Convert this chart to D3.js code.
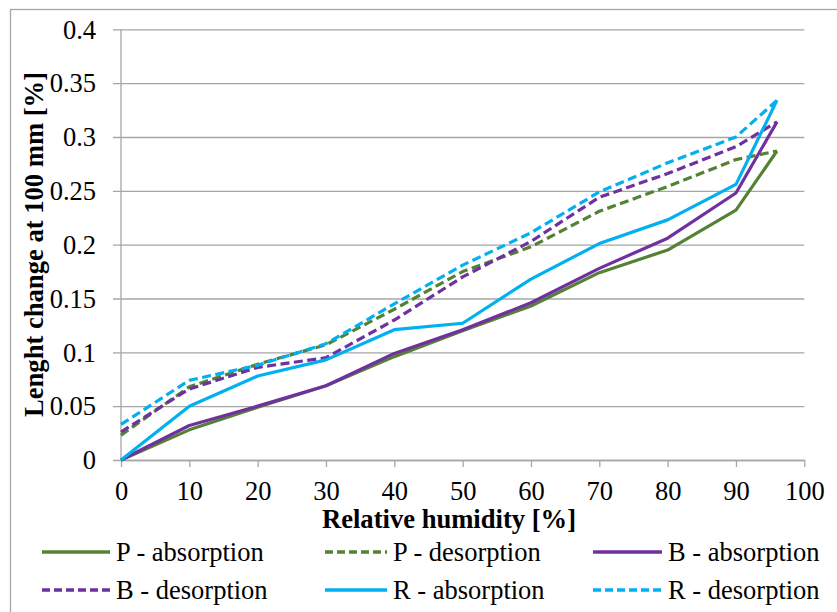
<!DOCTYPE html>
<html>
<head>
<meta charset="utf-8">
<script src="https://cdn.jsdelivr.net/npm/d3@7"></script>
<style>
  body { margin: 0; background: #fff; }
  text { font-family: "Liberation Serif", "Times New Roman", serif; fill: #000; }
</style>
</head>
<body>
<div id="chart"></div>
<script>
// ===============================
// Data
// ===============================
const humidity = [0, 10, 20, 30, 40, 50, 60, 70, 80, 90, 96];
const pAbsorption = [0, 0.028, 0.049, 0.069, 0.096, 0.120, 0.143, 0.174, 0.195, 0.232, 0.287];
const pDesorption = [0.023, 0.068, 0.089, 0.107, 0.140, 0.175, 0.198, 0.231, 0.254, 0.279, 0.287];
const bAbsorption = [0, 0.032, 0.050, 0.069, 0.099, 0.121, 0.146, 0.178, 0.206, 0.248, 0.314];
const bDesorption = [0.026, 0.066, 0.086, 0.095, 0.130, 0.170, 0.203, 0.244, 0.266, 0.291, 0.314];
const rAbsorption = [0, 0.050, 0.078, 0.093, 0.121, 0.127, 0.168, 0.201, 0.223, 0.256, 0.334];
const rDesorption = [0.033, 0.074, 0.088, 0.108, 0.145, 0.181, 0.211, 0.249, 0.276, 0.300, 0.334];

const seriesNames = ["P - absorption", "P - desorption", "B - absorption",
                     "B - desorption", "R - absorption", "R - desorption"];
const xTicks = [0, 10, 20, 30, 40, 50, 60, 70, 80, 90, 100];
const yTicks = [0, 0.05, 0.1, 0.15, 0.2, 0.25, 0.3, 0.35, 0.4];

// ===============================
// Constants
// ===============================
const W = 837, H = 612;
const plot = { left: 121, right: 804.3, top: 29.3, bottom: 460 };
const green = "#548235", purple = "#7030a0", blue = "#00b0f0";
const gridColor = "#a6a6a6";
const fontSize = "26.5px";

const series = [
  { name: seriesNames[0], values: pAbsorption, color: green, dashed: false },
  { name: seriesNames[1], values: pDesorption, color: green, dashed: true },
  { name: seriesNames[2], values: bAbsorption, color: purple, dashed: false },
  { name: seriesNames[3], values: bDesorption, color: purple, dashed: true },
  { name: seriesNames[4], values: rAbsorption, color: blue, dashed: false },
  { name: seriesNames[5], values: rDesorption, color: blue, dashed: true }
];

const svg = d3.select("#chart").append("svg")
  .attr("width", W)
  .attr("height", H);

// outer chart border (cropped at right / bottom in the reference)
svg.append("rect")
  .attr("x", 10.5).attr("y", 9.5)
  .attr("width", 1000).attr("height", 1000)
  .attr("fill", "none")
  .attr("stroke", gridColor)
  .attr("stroke-width", 1.3);

const x = d3.scaleLinear().domain([0, 100]).range([plot.left, plot.right]);
const y = d3.scaleLinear().domain([0, 0.4]).range([plot.bottom, plot.top]);

// y axis with gridlines
svg.append("g")
  .attr("transform", `translate(${plot.left},0)`)
  .call(d3.axisLeft(y)
    .tickValues(yTicks)
    .tickSize(-(plot.right - plot.left))
    .tickFormat(d => d3.format("~g")(+d.toFixed(2))))
  .call(g => g.select(".domain").remove())
  .call(g => g.selectAll(".tick line")
    .attr("x1", -8)
    .attr("stroke", gridColor)
    .attr("stroke-width", 1.3))
  .call(g => g.selectAll(".tick text")
    .attr("font-size", fontSize)
    .attr("x", -25)
    .attr("dy", "0.33em"));

// y axis vertical line
svg.append("line")
  .attr("x1", plot.left).attr("x2", plot.left)
  .attr("y1", plot.top).attr("y2", plot.bottom)
  .attr("stroke", gridColor)
  .attr("stroke-width", 1.3);

// x axis
svg.append("g")
  .attr("transform", `translate(0,${plot.bottom})`)
  .call(d3.axisBottom(x).tickValues(xTicks).tickSize(7).tickSizeOuter(0).tickPadding(14))
  .call(g => g.select(".domain").attr("stroke", gridColor).attr("stroke-width", 1.3))
  .call(g => g.selectAll(".tick line").attr("stroke", gridColor).attr("stroke-width", 1.3))
  .call(g => g.selectAll(".tick text").attr("font-size", fontSize));

// lines
const line = d3.line()
  .x((d, i) => x(humidity[i]))
  .y(d => y(d));

svg.append("g")
  .selectAll("path")
  .data(series)
  .enter()
  .append("path")
  .attr("d", d => line(d.values))
  .attr("fill", "none")
  .attr("stroke", d => d.color)
  .attr("stroke-width", 3.2)
  .attr("stroke-linejoin", "round")
  .attr("stroke-dasharray", d => d.dashed ? "9,4.5" : null);

// axis titles
svg.append("text")
  .attr("x", 449)
  .attr("y", 528)
  .attr("text-anchor", "middle")
  .attr("font-size", "26.6px")
  .attr("font-weight", "bold")
  .text("Relative humidity [%]");

svg.append("text")
  .attr("transform", `translate(43,244.5) rotate(-90)`)
  .attr("text-anchor", "middle")
  .attr("font-size", "26.6px")
  .attr("font-weight", "bold")
  .text("Lenght change at 100 mm [%]");

// legend (3 columns x 2 rows)
const legendCols = [{ x0: 42, x1: 110 }, { x0: 325, x1: 387 }, { x0: 593, x1: 662 }];
const legendRows = [552, 590];

const legend = svg.append("g")
  .selectAll("g")
  .data(series)
  .enter()
  .append("g")
  .attr("transform", (d, i) => `translate(0,${legendRows[Math.floor(i / 3)]})`);

legend.append("line")
  .attr("x1", (d, i) => legendCols[i % 3].x0)
  .attr("x2", (d, i) => legendCols[i % 3].x1)
  .attr("stroke", d => d.color)
  .attr("stroke-width", 3.5)
  .attr("stroke-dasharray", d => d.dashed ? "8,4" : null);

legend.append("text")
  .attr("x", (d, i) => legendCols[i % 3].x1 + 6)
  .attr("dy", "0.33em")
  .attr("font-size", fontSize)
  .text(d => d.name);
</script>
</body>
</html>
